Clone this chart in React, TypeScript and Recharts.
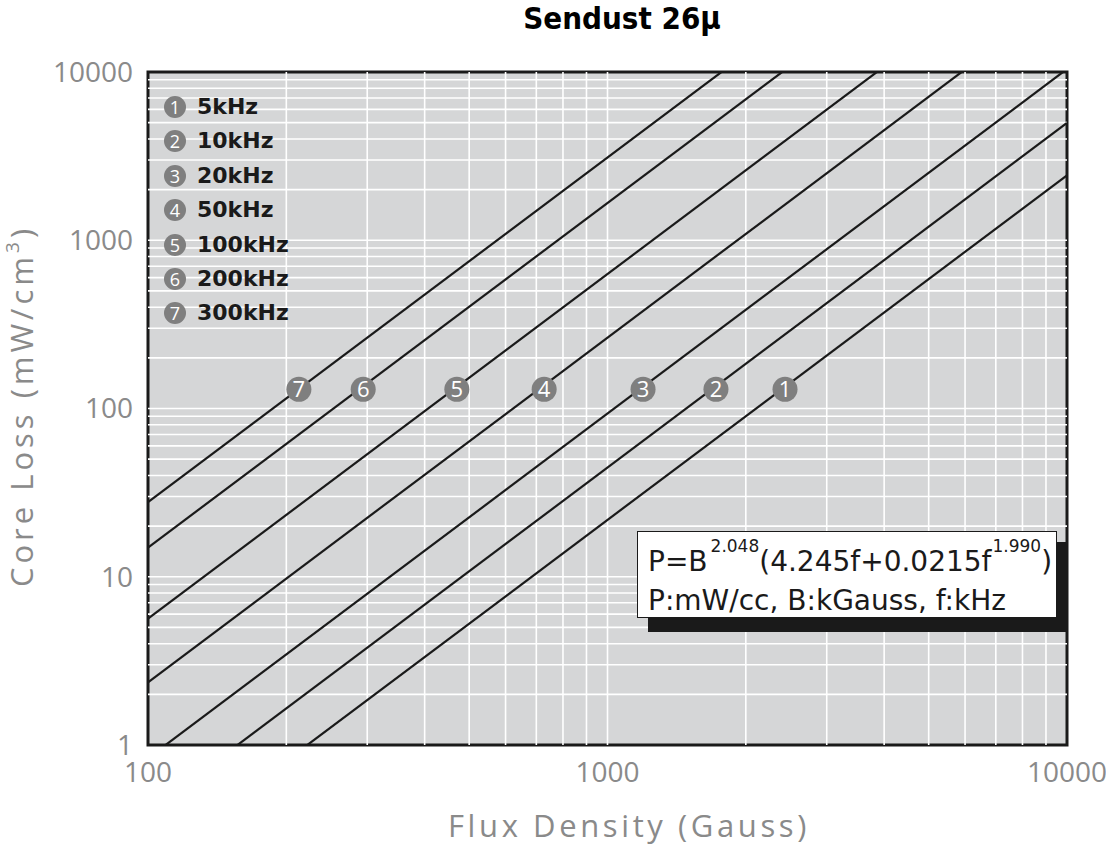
import { ComposedChart, Line, Scatter, XAxis, YAxis, ReferenceLine, ReferenceArea } from "recharts";

// frequency curves, loss at the two edges of the flux range (mW/cm3)
const FREQ_LABELS = ["5kHz", "10kHz", "20kHz", "50kHz", "100kHz", "200kHz", "300kHz"];
const FLUX_MIN = 100;
const FLUX_MAX = 10000;
const LOSS_AT_MIN = [0.195, 0.399, 0.835, 2.36, 5.64, 14.9, 27.8];
const LOSS_AT_MAX = [2430, 4976, 10415, 29475, 70340, 185920, 346380];

// numbered badges sitting on each curve
const MARKER_FLUX = [2434, 1722, 1195, 728, 470, 294, 213];
const MARKER_LOSS = [130, 130, 130, 130, 130, 130, 130];

const X_TICKS = [100, 1000, 10000];
const Y_TICKS = [1, 10, 100, 1000, 10000];
const STEPS = [2, 3, 4, 5, 6, 7, 8, 9];
const X_GRID = [100, 1000].flatMap((d) => STEPS.map((s) => s * d)).concat([1000]);
const Y_GRID = [1, 10, 100, 1000].flatMap((d) => STEPS.map((s) => s * d)).concat([10, 100, 1000]);

const GRAY_TEXT = "#8a8a8a";
const BADGE = "#7f7f7f";

const curves = FREQ_LABELS.map((name, i) => ({
  name,
  data: [
    { b: FLUX_MIN, p: LOSS_AT_MIN[i] },
    { b: FLUX_MAX, p: LOSS_AT_MAX[i] },
  ],
}));

const markers = MARKER_FLUX.map((b, i) => ({ b, p: MARKER_LOSS[i], n: i + 1 }));

const Badge = (props: any) => {
  const { cx, cy, payload } = props;
  return (
    <g>
      <circle cx={cx} cy={cy} r={12.5} fill={BADGE} />
      <text x={cx} y={cy} dy="0.36em" textAnchor="middle" fill="#fff" fontSize={22} fontFamily="'Open Sans', sans-serif">
        {payload.n}
      </text>
    </g>
  );
};

const tickStyle = { fill: GRAY_TEXT, fontSize: 28, fontFamily: "'Open Sans', sans-serif" };
const supStyle = { fontSize: 17, position: "relative" as const, top: -19, marginLeft: 3 };

export default function App() {
  return (
    <div style={{ position: "absolute", left: 0, top: 0, width: 1106, height: 851, background: "#fff" }}>
      <ComposedChart width={1106} height={851} margin={{ top: 72, right: 39, bottom: 66, left: 48 }}>
        <XAxis
          dataKey="b"
          type="number"
          scale="log"
          domain={[FLUX_MIN, FLUX_MAX]}
          allowDataOverflow
          ticks={X_TICKS}
          tickSize={0}
          tickMargin={17}
          axisLine={false}
          tick={tickStyle}
          height={40}
          interval={0}
        />
        <YAxis
          type="number"
          scale="log"
          domain={[1, 10000]}
          allowDataOverflow
          ticks={Y_TICKS}
          tickSize={0}
          tickMargin={15}
          axisLine={false}
          tick={tickStyle}
          width={100}
          interval={0}
        />
        <ReferenceArea x1={FLUX_MIN} x2={FLUX_MAX} y1={1} y2={10000} fill="#d5d6d7" fillOpacity={1} stroke="none" />
        {Y_GRID.map((v) => (
          <ReferenceLine key={"y" + v} y={v} stroke="#fff" strokeWidth={1.6} />
        ))}
        {X_GRID.map((v) => (
          <ReferenceLine key={"x" + v} x={v} stroke="#fff" strokeWidth={1.6} />
        ))}
        {curves.map((c) => (
          <Line
            key={c.name}
            data={c.data}
            dataKey="p"
            stroke="#1a1a1a"
            strokeWidth={2.2}
            dot={false}
            activeDot={false}
            isAnimationActive={false}
          />
        ))}
        <Scatter data={markers} dataKey="p" shape={<Badge />} isAnimationActive={false} />
        <ReferenceArea x1={FLUX_MIN} x2={FLUX_MAX} y1={1} y2={10000} fill="none" stroke="#1a1a1a" strokeWidth={3} />
      </ComposedChart>

      {/* title */}
      <div
        style={{
          position: "absolute", left: 522, width: 200, top: 0, textAlign: "center", whiteSpace: "nowrap",
          fontFamily: "'DejaVu Sans Condensed', 'DejaVu Sans', sans-serif", fontWeight: 700, fontSize: 31,
          lineHeight: "36px", color: "#000",
        }}
      >
        Sendust 26μ
      </div>

      {/* axis titles */}
      <div
        style={{
          position: "absolute", left: 448, top: 837 - 33, height: 42, lineHeight: "42px", whiteSpace: "nowrap",
          fontFamily: "'Open Sans', sans-serif", fontSize: 31, color: GRAY_TEXT, letterSpacing: 3.6,
        }}
      >
        Flux Density (Gauss)
      </div>

      <div style={{ position: "absolute", left: 23, top: 406, width: 0, height: 0 }}>
        <div
          style={{
            position: "absolute", left: 0, top: 0, whiteSpace: "nowrap", transform: "translate(-50%, -50%) rotate(-90deg)",
            fontFamily: "'Open Sans', sans-serif", fontSize: 31, lineHeight: "42px", color: GRAY_TEXT, letterSpacing: 4,
          }}
        >
          Core Loss (mW/cm<span style={{ fontSize: 19, position: "relative", top: -14 }}>3</span>)
        </div>
      </div>

      {/* frequency key */}
      {FREQ_LABELS.map((label, i) => (
        <div
          key={label}
          style={{ position: "absolute", left: 164, top: 96 + i * 34.4, height: 22, display: "flex", alignItems: "center" }}
        >
          <div
            style={{
              width: 22, height: 22, borderRadius: "50%", background: BADGE, color: "#fff", fontSize: 18,
              fontFamily: "'Open Sans', sans-serif", display: "flex", alignItems: "center", justifyContent: "center", lineHeight: 1,
            }}
          >
            {i + 1}
          </div>
          <span
            style={{
              marginLeft: 11, fontFamily: "'DejaVu Sans', sans-serif", fontWeight: 700, fontSize: 22,
              color: "#1a1a1a", lineHeight: "22px",
            }}
          >
            {label}
          </span>
        </div>
      ))}

      {/* loss formula box with drop shadow */}
      <div style={{ position: "absolute", left: 648, top: 542, width: 419, height: 90, background: "#1a1a1a" }} />
      <div
        style={{
          position: "absolute", left: 637, top: 531, width: 420, height: 87, boxSizing: "border-box", background: "#fff",
          border: "1px solid #1a1a1a", padding: "12px 0 0 10px", fontFamily: "'DejaVu Sans', sans-serif", fontSize: 28,
          color: "#1a1a1a", lineHeight: "36px", whiteSpace: "nowrap",
        }}
      >
        <div>
          P=B<span style={supStyle}>2.048</span>(4.245f+0.0215f<span style={{ ...supStyle, marginLeft: 1 }}>1.990</span>)
        </div>
        <div>P:mW/cc, B:kGauss, f:kHz</div>
      </div>
    </div>
  );
}
